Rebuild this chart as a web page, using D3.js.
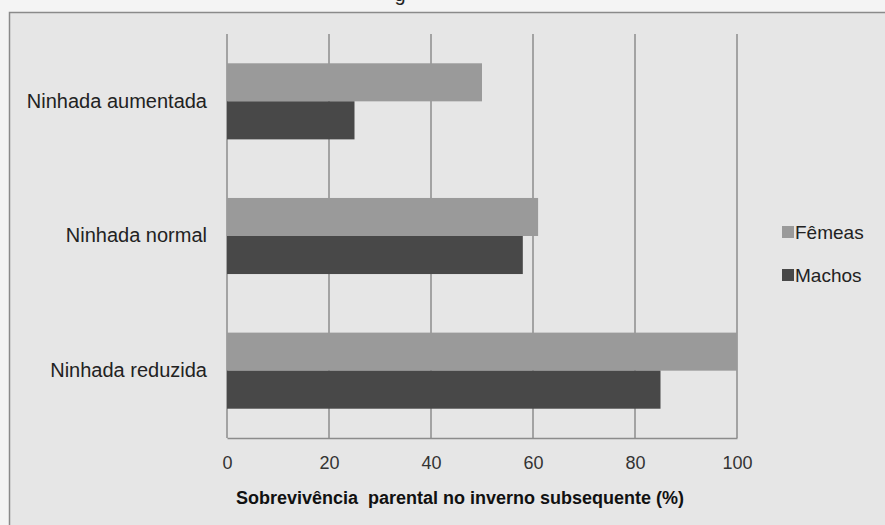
<!DOCTYPE html>
<html>
<head>
<meta charset="utf-8">
<script src="https://cdn.jsdelivr.net/npm/d3@7"></script>
<style>
  body { margin: 0; background: #f4f4f4; }
  svg { display: block; font-family: "Liberation Sans", Arial, sans-serif; }
  .axis-label { font-weight: bold; white-space: pre; }
</style>
</head>
<body>
<svg id="chart"></svg>
<script>
// data
const categories = ['Ninhada aumentada', 'Ninhada normal', 'Ninhada reduzida'];
const seriesNames = ['Fêmeas', 'Machos'];
const femeasValues = [50, 61, 100];
const machosValues = [25, 58, 85];
const xTickValues = [0, 20, 40, 60, 80, 100];
const axisTitle = 'Sobrevivência  parental no inverno subsequente (%)';

class survivalBarChart {

    constructor(_config) {
        this.config = {
            parentElement: _config.parentElement,
            containerWidth: _config.containerWidth || 885,
            containerHeight: _config.containerHeight || 525,
            margin: _config.margin || { top: 34, right: 148, bottom: 87, left: 227 }
        }
        this.initVis();
    }

    initVis() {
        let vis = this;

        vis.width = vis.config.containerWidth - vis.config.margin.left - vis.config.margin.right;
        vis.height = vis.config.containerHeight - vis.config.margin.top - vis.config.margin.bottom;

        vis.svg = d3.select(vis.config.parentElement)
            .attr('width', vis.config.containerWidth)
            .attr('height', vis.config.containerHeight);

        // chart frame (runs off the right and bottom edges)
        vis.svg.append('rect')
            .attr('x', 9.5)
            .attr('y', 12.5)
            .attr('width', vis.config.containerWidth + 20)
            .attr('height', vis.config.containerHeight + 20)
            .attr('fill', '#e6e6e6')
            .attr('stroke', '#8a8a8a')
            .attr('stroke-width', 1.5);

        // cut-off title descender at top
        vis.svg.append('text')
            .attr('x', 400)
            .attr('y', 1)
            .attr('text-anchor', 'middle')
            .style('font-size', '20px')
            .attr('fill', '#222')
            .text('g');

        vis.xScale = d3.scaleLinear()
            .domain([0, 100])
            .range([0, vis.width]);

        vis.yScale = d3.scaleBand()
            .domain(categories)
            .range([0, vis.height])
            .padding(0);

        vis.ySubScale = d3.scaleBand()
            .domain(seriesNames)
            .range([0, vis.yScale.bandwidth()])
            .paddingInner(0)
            .paddingOuter(0.77);

        vis.colour = d3.scaleOrdinal()
            .domain(seriesNames)
            .range(['#9a9a9a', '#484848']);

        vis.chart = vis.svg.append('g')
            .attr('transform', `translate(${vis.config.margin.left},${vis.config.margin.top})`);

        vis.updateVis();
    }

    updateVis() {
        let vis = this;

        vis.rows = categories.map((c, i) => ({
            category: c,
            values: [
                { series: seriesNames[0], value: femeasValues[i] },
                { series: seriesNames[1], value: machosValues[i] }
            ]
        }));

        vis.renderVis();
    }

    renderVis() {
        let vis = this;

        // vertical gridlines
        vis.chart.selectAll('.grid')
            .data(xTickValues)
            .join('line')
            .attr('class', 'grid')
            .attr('x1', d => vis.xScale(d))
            .attr('x2', d => vis.xScale(d))
            .attr('y1', 0)
            .attr('y2', vis.height)
            .attr('stroke', '#8c8c8c')
            .attr('stroke-width', 1.5);

        // bars
        const groups = vis.chart.selectAll('.row')
            .data(vis.rows)
            .join('g')
            .attr('class', 'row')
            .attr('transform', d => `translate(0,${vis.yScale(d.category)})`);

        groups.selectAll('rect')
            .data(d => d.values)
            .join('rect')
            .attr('x', vis.xScale(0))
            .attr('y', d => vis.ySubScale(d.series))
            .attr('width', d => vis.xScale(d.value) - vis.xScale(0))
            .attr('height', vis.ySubScale.bandwidth())
            .attr('fill', d => vis.colour(d.series));

        // x axis
        vis.xAxis = d3.axisBottom(vis.xScale)
            .tickValues(xTickValues)
            .tickSize(0)
            .tickPadding(18);

        vis.xAxisGroup = vis.chart.append('g')
            .attr('class', 'x-axis')
            .attr('transform', `translate(0,${vis.height})`)
            .call(vis.xAxis);
        vis.xAxisGroup.select('.domain')
            .attr('stroke', '#8c8c8c')
            .attr('stroke-width', 1.5);
        vis.xAxisGroup.selectAll('text')
            .style('font-size', '18px')
            .style('font-family', '"Liberation Sans", Arial, sans-serif')
            .attr('fill', '#333');

        // y axis (category labels)
        vis.yAxis = d3.axisLeft(vis.yScale)
            .tickSize(0)
            .tickPadding(20);

        vis.yAxisGroup = vis.chart.append('g')
            .attr('class', 'y-axis')
            .call(vis.yAxis);
        vis.yAxisGroup.select('.domain').remove();
        vis.yAxisGroup.selectAll('text')
            .style('font-size', '20px')
            .style('font-family', '"Liberation Sans", Arial, sans-serif')
            .attr('fill', '#222');

        // axis title
        vis.chart.append('text')
            .attr('class', 'axis-label')
            .attr('x', vis.width / 2 - 22)
            .attr('y', vis.height + 66)
            .attr('text-anchor', 'middle')
            .style('font-size', '18px')
            .attr('fill', '#111')
            .text(axisTitle);

        // legend
        const legend = vis.svg.selectAll('.legend')
            .data(seriesNames)
            .join('g')
            .attr('class', 'legend')
            .attr('transform', (d, i) => `translate(782,${232 + i * 43})`);

        legend.append('rect')
            .attr('x', 0)
            .attr('y', -6)
            .attr('width', 12)
            .attr('height', 12)
            .attr('fill', d => vis.colour(d));

        legend.append('text')
            .attr('x', 13)
            .attr('dy', '0.35em')
            .style('font-size', '19px')
            .attr('fill', '#222')
            .text(d => d);
    }
}

new survivalBarChart({ parentElement: '#chart' });
</script>
</body>
</html>
